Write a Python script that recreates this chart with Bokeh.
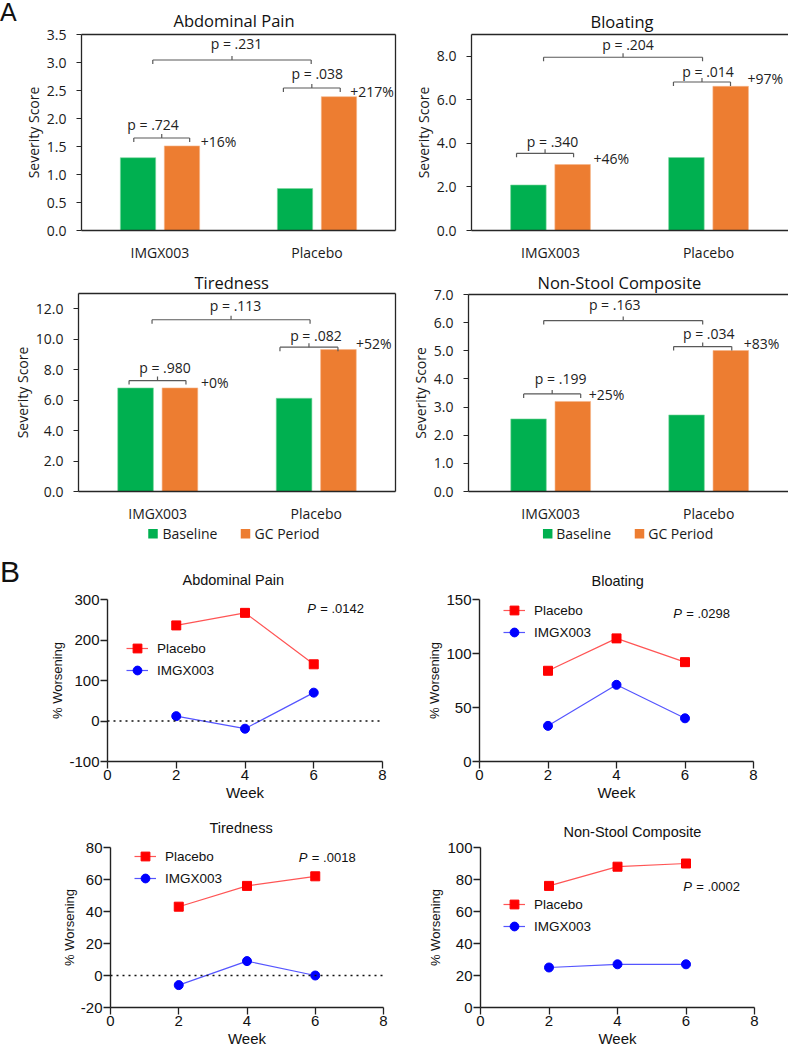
import numpy as np
from bokeh.plotting import figure
from bokeh.models import (Range1d, FixedTicker, SingleIntervalTicker, NumeralTickFormatter,
                          LinearAxis, Label, Legend, LegendItem, ColumnDataSource, Span, Div)
from bokeh.core.properties import value
from bokeh.layouts import column, row
from bokeh.embed import file_html
from bokeh.resources import INLINE

# ---------------- Panel A data ----------------
groups = ["IMGX003", "Placebo"]
series_a = ["Baseline", "GC Period"]

abd_baseline = [1.30, 0.75]
abd_gc = [1.51, 2.39]
abd_pct = ["+16%", "+217%"]
abd_p = ["p = .724", "p = .038", "p = .231"]

bloat_baseline = [2.09, 3.35]
bloat_gc = [3.03, 6.62]
bloat_pct = ["+46%", "+97%"]
bloat_p = ["p = .340", "p = .014", "p = .204"]

tired_baseline = [6.80, 6.12]
tired_gc = [6.80, 9.32]
tired_pct = ["+0%", "+52%"]
tired_p = ["p = .980", "p = .082", "p = .113"]

nsc_baseline = [2.58, 2.72]
nsc_gc = [3.20, 5.01]
nsc_pct = ["+25%", "+83%"]
nsc_p = ["p = .199", "p = .034", "p = .163"]

# ---------------- Panel B data ----------------
weeks = [2, 4, 6]
week_ticks = [0, 2, 4, 6, 8]
series_b = ["Placebo", "IMGX003"]

abd_placebo = [236, 267, 140]
abd_imgx = [12, -19, 70]
abd_ticks = [-100, 0, 100, 200, 300]
abd_P = ".0142"

bloat_placebo = [84, 114, 92]
bloat_imgx = [33, 71, 40]
bloat_ticks = [0, 50, 100, 150]
bloat_P = ".0298"

tired_placebo = [43, 56, 62]
tired_imgx = [-6, 9, 0]
tired_ticks = [-20, 0, 20, 40, 60, 80]
tired_P = ".0018"

nsc_placebo = [76, 88, 90]
nsc_imgx = [25, 27, 27]
nsc_ticks = [0, 20, 40, 60, 80, 100]
nsc_P = ".0002"

# ---------------- styles ----------------
GREEN = "#00B050"
ORANGE = "#ED7D31"
AX = "#262626"
BRK = "#595959"
FA = "Open Sans"
FB = "Liberation Sans"
RED = "#FF0000"
RED_L = "#FF5555"
BLUE = "#0000FF"
BLUE_L = "#5555FF"


def base_fig(w, h, xr, yr, mbl, mbr, mbt, mbb, title):
    p = figure(width=w, height=h, x_range=Range1d(*xr), y_range=Range1d(*yr),
               output_backend="svg", toolbar_location=None, title=title,
               min_border_left=mbl, min_border_right=mbr,
               min_border_top=mbt, min_border_bottom=mbb)
    p.xgrid.visible = False
    p.ygrid.visible = False
    p.outline_line_color = None
    p.background_fill_color = "white"
    p.border_fill_color = "white"
    return p


def style_title(p, font, size, offset, standoff):
    t = p.title
    t.align = "left"
    t.offset = offset
    t.standoff = standoff
    t.text_font = font
    t.text_font_size = size
    t.text_font_style = "normal"
    t.text_color = "#111111"


def frame_axis(p, side):
    ax = LinearAxis(ticker=FixedTicker(ticks=[]), major_label_text_font_size="0px",
                    major_tick_out=0, major_tick_in=0, major_label_standoff=0,
                    axis_line_color=AX, axis_line_width=1.3)
    p.add_layout(ax, side)


def bar_panel(w, h, xr, ymax, yint, mbl, mbr, mbt, mbb, base, gc, pcts, ptexts,
              brackets, pct_pos, title, t_off, t_so, right_box):
    p = base_fig(w, h, xr, (0, ymax), mbl, mbr, mbt, mbb, title)
    style_title(p, FA, "16.5px", t_off, t_so)
    frame_h = h - mbt - mbb
    ppu = frame_h / ymax
    idx = np.arange(len(groups))
    src = ColumnDataSource(dict(xb=idx - 0.14, xg=idx + 0.14, base=base, gc=gc))
    p.vbar(x="xb", top="base", width=0.225, source=src,
           fill_color=GREEN, line_color="#7ED9A0", line_width=0.6)
    p.vbar(x="xg", top="gc", width=0.225, source=src,
           fill_color=ORANGE, line_color="#F5B58A", line_width=0.6)

    xa = p.xaxis[0]
    xa.ticker = FixedTicker(ticks=[int(i) for i in idx])
    xa.major_label_overrides = {int(i): g for i, g in enumerate(groups)}
    xa.major_tick_out = 0
    xa.major_tick_in = 0
    xa.minor_tick_line_color = None
    xa.major_label_standoff = 12
    xa.major_label_text_font = FA
    xa.major_label_text_font_size = "14px"
    xa.major_label_text_color = "#1a1a1a"
    xa.axis_line_color = AX
    xa.axis_line_width = 1.3

    ya = p.yaxis[0]
    ya.ticker = SingleIntervalTicker(interval=yint, num_minor_ticks=0)
    ya.formatter = NumeralTickFormatter(format="0.0")
    ya.major_tick_out = 5
    ya.major_tick_in = 0
    ya.major_tick_line_color = AX
    ya.minor_tick_line_color = None
    ya.major_label_standoff = 10
    ya.major_label_text_font = FA
    ya.major_label_text_font_size = "14px"
    ya.major_label_text_color = "#1a1a1a"
    ya.axis_line_color = AX
    ya.axis_line_width = 1.3
    ya.axis_label = "Severity Score"
    ya.axis_label_text_font = FA
    ya.axis_label_text_font_size = "14px"
    ya.axis_label_text_font_style = "normal"
    ya.axis_label_text_color = "#1a1a1a"
    ya.axis_label_standoff = 1

    frame_axis(p, "above")
    if right_box:
        frame_axis(p, "right")

    d = 4.0 / ppu
    for (x0, x1, yb, tx, ty), txt in zip(brackets, ptexts):
        mid = (x0 + x1) / 2
        p.segment(x0=[x0, x0, x1, mid], y0=[yb, yb, yb, yb],
                  x1=[x1, x0, x1, mid], y1=[yb, yb - d, yb - d, yb + d],
                  line_color=BRK, line_width=1.2)
        p.add_layout(Label(x=tx, y=ty, text=txt, text_align="center", text_baseline="middle",
                           text_font=FA, text_font_size="14px", text_color="#222222"))
    for (px_, py_), txt in zip(pct_pos, pcts):
        p.add_layout(Label(x=px_, y=py_, text=txt, text_align="left", text_baseline="middle",
                           text_font=FA, text_font_size="14px", text_color="#222222"))
    return p


def legend_strip(w, h, mbl, mbr, sw_x, txt_x, yc):
    # key (Baseline / GC Period) under the lower bar charts; x in pixels from the strip's left
    p = figure(width=w, height=h, x_range=Range1d(mbl, w - mbr), y_range=Range1d(0, h),
               x_axis_type=None, y_axis_type=None, output_backend="svg",
               toolbar_location=None, min_border_left=mbl, min_border_right=mbr,
               min_border_top=0, min_border_bottom=0)
    p.outline_line_color = None
    p.border_fill_color = "white"
    p.background_fill_color = "white"
    p.rect(x=sw_x, y=[yc, yc], width=9.5, height=9.5, fill_color=[GREEN, ORANGE],
           line_color=None)
    p.text(x=txt_x, y=[yc, yc], text=series_a, text_align="left", text_baseline="middle",
           text_font=value(FA), text_font_size=value("14px"), text_color="#1a1a1a")
    return p


def line_panel(w, h, yr, yticks, mbl, mbr, mbt, mbb, plc, img, ptxt, p_xy, title, t_off, t_so,
               legend_loc, zero_line):
    p = base_fig(w, h, (0, 8), yr, mbl, mbr, mbt, mbb, title)
    style_title(p, FB, "14.5px", t_off, t_so)
    for ax in (p.xaxis[0], p.yaxis[0]):
        ax.axis_line_color = "#222222"
        ax.axis_line_width = 1.4
        ax.major_tick_line_color = "#222222"
        ax.major_tick_line_width = 1.3
        ax.major_tick_out = 7
        ax.major_tick_in = 0
        ax.minor_tick_line_color = None
        ax.major_label_text_font = FB
        ax.major_label_text_font_size = "15px"
        ax.major_label_text_color = "#111111"
        ax.axis_label_text_font = FB
        ax.axis_label_text_font_style = "normal"
        ax.axis_label_text_color = "#111111"
    xa = p.xaxis[0]
    xa.ticker = FixedTicker(ticks=week_ticks)
    xa.major_label_standoff = 1
    xa.axis_label = "Week"
    xa.axis_label_text_font_size = "15px"
    xa.axis_label_standoff = 1
    ya = p.yaxis[0]
    ya.ticker = FixedTicker(ticks=yticks)
    ya.formatter = NumeralTickFormatter(format="0")
    ya.major_label_standoff = 1
    ya.axis_label = "% Worsening"
    ya.axis_label_text_font_size = "13px"
    ya.axis_label_standoff = 1

    if zero_line:
        p.add_layout(Span(location=0, dimension="width", line_color="#111111",
                          line_width=1.5, line_dash="2 4"))
    lp = p.line(weeks, plc, line_color=RED_L, line_width=1.2)
    sp = p.scatter(weeks, plc, marker="square", size=9, fill_color=RED, line_color=RED)
    li = p.line(weeks, img, line_color=BLUE_L, line_width=1.2)
    si = p.scatter(weeks, img, marker="circle", size=9, fill_color=BLUE, line_color=BLUE)

    lg = Legend(items=[LegendItem(label=series_b[0], renderers=[lp, sp]),
                       LegendItem(label=series_b[1], renderers=[li, si])],
                location=legend_loc, orientation="vertical",
                glyph_width=22, glyph_height=22, label_height=22, label_width=20,
                label_standoff=9, spacing=0, padding=0, margin=0,
                border_line_color=None, background_fill_alpha=0,
                label_text_font=FB, label_text_font_size="13.5px", label_text_color="#111111")
    p.add_layout(lg)

    p.add_layout(Label(x=p_xy[0], y=p_xy[1], text="P", text_align="left", text_baseline="middle",
                       text_font=FB, text_font_size="13px", text_font_style="italic",
                       text_color="#111111"))
    p.add_layout(Label(x=p_xy[0], y=p_xy[1], x_offset=13, text="= " + ptxt, text_align="left",
                       text_baseline="middle", text_font=FB, text_font_size="13px",
                       text_color="#111111"))
    return p


def letter_div(txt, size, pad_top, h):
    return Div(text=txt, width=20, height=h, margin=0,
               styles={"font-family": FB, "font-size": size, "line-height": "1",
                       "color": "#111111", "padding-top": pad_top, "overflow": "visible"})


# ---- Panel A ----
a1 = bar_panel(380, 265, (-0.5, 1.5), 3.5, 0.5, 60, 5, 34, 35, abd_baseline, abd_gc, abd_pct, abd_p,
               [(-0.167, 0.189, 1.652, -0.044, 1.884),
                (0.786, 1.148, 2.545, 1.002, 2.795),
                (-0.046, 0.963, 3.045, 0.487, 3.348)],
               [(0.259, 1.598), (1.211, 2.491)],
               "Abdominal Pain", 92, 6, True)
a2 = bar_panel(388, 265, (-0.5, 1.506), 9, 2, 71, 0, 33, 34, bloat_baseline, bloat_gc, bloat_pct, bloat_p,
               [(-0.215, 0.146, 3.545, 0.013, 4.09),
                (0.778, 1.139, 6.818, 0.997, 7.318),
                (-0.044, 0.962, 7.955, 0.491, 8.545)],
               [(0.272, 3.318), (1.247, 7.0)],
               "Bloating", 119, 4, False)
a3 = bar_panel(400, 260, (-0.5, 1.5), 13, 2, 78, 5, 28, 34, tired_baseline, tired_gc, tired_pct, tired_p,
               [(-0.181, 0.178, 7.283, 0.046, 8.158),
                (0.771, 1.137, 9.474, 0.998, 10.24),
                (-0.036, 0.961, 11.276, 0.491, 12.217)],
               [(0.273, 7.171), (1.251, 9.717)],
               "Tiredness", 116, 0, True)
a4 = bar_panel(388, 260, (-0.52, 1.505), 7, 1, 68, 0, 29, 34, nsc_baseline, nsc_gc, nsc_pct, nsc_p,
               [(-0.171, 0.190, 3.466, 0.063, 4.011),
                (0.778, 1.146, 5.149, 1.0, 5.623),
                (-0.044, 0.962, 6.075, 0.405, 6.633)],
               [(0.241, 3.441), (1.222, 5.267)],
               "Non-Stool Composite", 69, 1, False)
k3 = legend_strip(400, 28, 78, 5, [152.5, 245.0], [162.0, 254.0], 19.7)
k4 = legend_strip(388, 28, 68, 0, [147.2, 239.0], [155.7, 247.7], 19.7)

# ---- Panel B ----
b1 = line_panel(380, 252, (-100, 300), abd_ticks, 87, 18, 45, 44, abd_placebo, abd_imgx, abd_P,
                (5.81, 278.6), "Abdominal Pain", 75, 23, (19, 80), True)
b2 = line_panel(388, 252, (0, 150), bloat_ticks, 79, 35, 46, 42, bloat_placebo, bloat_imgx, bloat_P,
                (5.655, 136.9), "Bloating", 112, 22, (24, 118), False)
b3 = line_panel(400, 244, (-20, 80), tired_ticks, 110, 17, 42, 39, tired_placebo, tired_imgx, tired_P,
                (5.52, 73.7), "Tiredness", 99, 23, (24, 118), True)
b4 = line_panel(388, 244, (0, 100), nsc_ticks, 80, 34, 42, 40, nsc_placebo, nsc_imgx, nsc_P,
                (5.92, 75.5), "Non-Stool Composite", 83, 15, (23, 70), False)

layout = column(row(letter_div("A", "25px", "0px", 265), a1, a2),
                row(column(a3, k3), column(a4, k4)),
                row(letter_div("B", "30px", "4px", 252), b1, b2),
                row(b3, b4))

open("out.html", "w").write(file_html(layout, INLINE))
